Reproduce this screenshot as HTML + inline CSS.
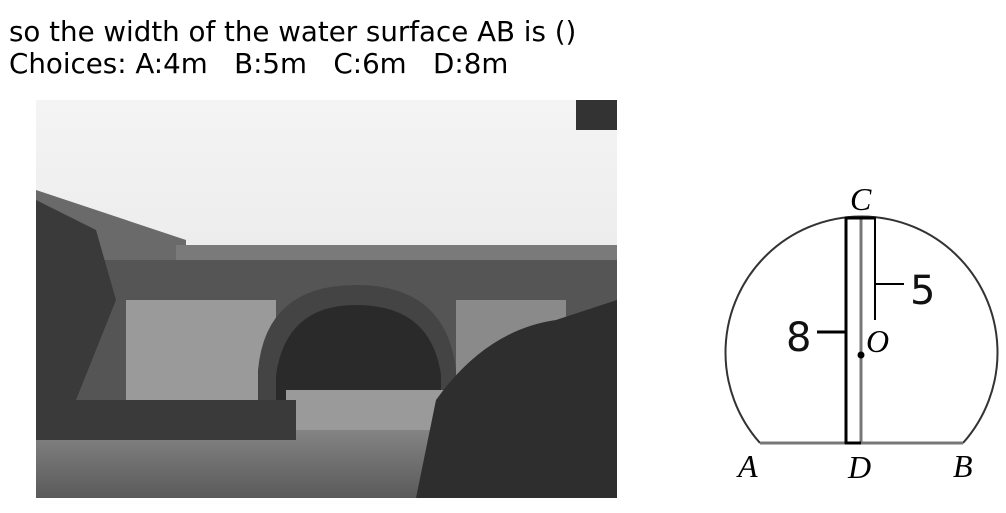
<!DOCTYPE html>
<html><head><meta charset="utf-8"><style>
body{margin:0;width:1006px;height:513px;background:#fff;overflow:hidden;position:relative;font-family:"DejaVu Sans","Liberation Sans",sans-serif}
.q{position:absolute;left:9px;font-size:27.7px;color:#000;line-height:31px;white-space:pre}
</style></head><body>
<div class="q" style="top:16px">so the width of the water surface AB is ()</div>
<div class="q" style="top:48px">Choices: A:4m   B:5m   C:6m   D:8m</div>
<svg style="position:absolute;left:36px;top:100px" width="581" height="398" viewBox="0 0 581 398">
<defs><linearGradient id="sky" x1="0" y1="0" x2="0" y2="1"><stop offset="0" stop-color="#f4f4f4"/><stop offset="1" stop-color="#e0e0e0"/></linearGradient>
<linearGradient id="wat" x1="0" y1="0" x2="0" y2="1"><stop offset="0" stop-color="#8a8a8a"/><stop offset="1" stop-color="#5a5a5a"/></linearGradient></defs>
<rect width="581" height="398" fill="url(#sky)"/>
<polygon points="0,90 150,140 150,200 0,200" fill="#6a6a6a"/>
<rect x="140" y="145" width="441" height="40" fill="#7a7a7a"/>
<rect x="0" y="160" width="581" height="160" fill="#555"/>
<rect x="90" y="200" width="150" height="110" fill="#9a9a9a"/>
<rect x="420" y="200" width="110" height="110" fill="#8a8a8a"/>
<path d="M222,320 L222,270 Q230,185 320,185 Q410,185 420,270 L420,320 Z" fill="#444"/>
<path d="M240,320 L240,275 Q250,205 320,205 Q395,205 405,275 L405,320 Z" fill="#2a2a2a"/>
<rect x="0" y="320" width="581" height="78" fill="url(#wat)"/>
<rect x="250" y="290" width="170" height="40" fill="#9a9a9a"/>
<rect x="0" y="300" width="260" height="40" fill="#3a3a3a"/>
<path d="M380,398 L400,300 Q450,230 520,220 L581,200 L581,398 Z" fill="#2e2e2e"/>
<path d="M0,100 L60,130 L80,200 L40,300 L0,320 Z" fill="#3a3a3a"/>
<rect x="540" y="0" width="41" height="30" fill="#333"/>
</svg>
<svg style="position:absolute;left:0;top:0" width="1006" height="513">
<path d="M760,443 A136,136 0 1 1 963,443" fill="none" stroke="#333" stroke-width="2"/>
<line x1="760" y1="443" x2="963" y2="443" stroke="#777" stroke-width="3"/>
<line x1="846" y1="217" x2="846" y2="444" stroke="#000" stroke-width="3"/>
<line x1="861" y1="217" x2="861" y2="443" stroke="#777" stroke-width="3"/>
<line x1="875" y1="217" x2="875" y2="320" stroke="#000" stroke-width="2"/>
<line x1="845" y1="218" x2="876" y2="218" stroke="#000" stroke-width="3"/>
<line x1="845" y1="443" x2="861" y2="443" stroke="#000" stroke-width="3"/>
<line x1="875" y1="284" x2="904" y2="284" stroke="#000" stroke-width="2"/>
<line x1="817" y1="332" x2="846" y2="332" stroke="#000" stroke-width="3"/>
<circle cx="861" cy="355" r="3.5" fill="#000"/>
<g font-family="Liberation Serif,serif" font-style="italic" font-size="32" fill="#000">
<text x="850" y="210">C</text>
<text x="866" y="352">O</text>
<text x="738" y="477">A</text>
<text x="848" y="478">D</text>
<text x="953" y="477">B</text>
</g>
<g font-family="DejaVu Sans,sans-serif" font-size="40" fill="#111">
<text x="910" y="304">5</text>
<text x="786" y="351">8</text>
</g>
</svg>
</body></html>
